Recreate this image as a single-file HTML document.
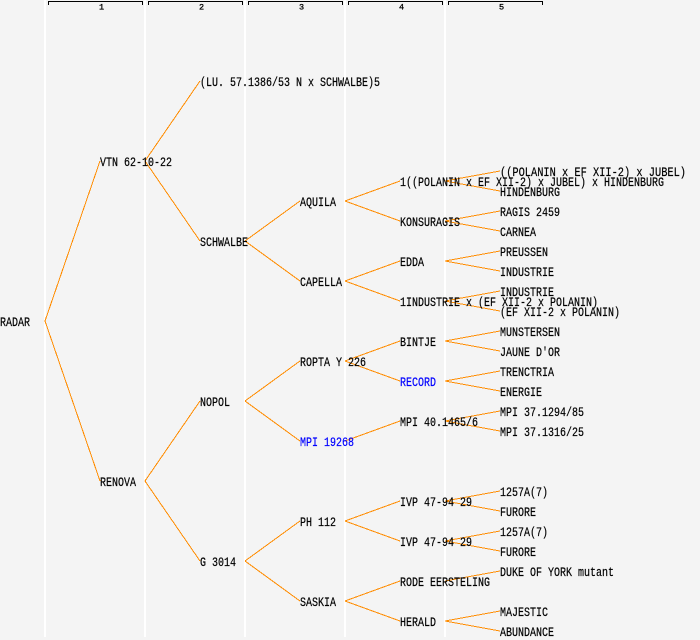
<!DOCTYPE html>
<html>
<head>
<meta charset="utf-8">
<style>
  html, body { margin: 0; padding: 0; background: #f4f4f4; }
  svg { display: block; }
  text { font-family: "Liberation Mono", "DejaVu Sans Mono", monospace; font-size: 12.5px; fill: #000; stroke: #000; stroke-width: 0.2px; }
  .b { fill: #0000ff; stroke: #0000ff; }
  .h { font-size: 8.5px; text-anchor: middle; stroke-width: 0.3px; }
</style>
</head>
<body>
<svg width="700" height="640" viewBox="0 0 700 640" xmlns="http://www.w3.org/2000/svg">
  <rect x="0" y="0" width="700" height="640" fill="#f4f4f4"/>
  <!-- column separators -->
  <g fill="#ffffff">
    <rect x="44" y="0" width="2" height="637"/>
    <rect x="144" y="0" width="2" height="637"/>
    <rect x="244" y="0" width="2" height="637"/>
    <rect x="344" y="0" width="2" height="637"/>
    <rect x="444" y="0" width="2" height="637"/>
  </g>
  <!-- header brackets -->
  <g stroke="#000" stroke-width="1" fill="none" shape-rendering="crispEdges">
    <path d="M48.5 5 V1.5 H142.5 V5"/>
    <path d="M148.5 5 V1.5 H242.5 V5"/>
    <path d="M248.5 5 V1.5 H342.5 V5"/>
    <path d="M348.5 5 V1.5 H442.5 V5"/>
    <path d="M448.5 5 V1.5 H542.5 V5"/>
  </g>
  <text class="h" x="101.5" y="9.5">1</text>
  <text class="h" x="201.5" y="9.5">2</text>
  <text class="h" x="301.5" y="9.5">3</text>
  <text class="h" x="401.5" y="9.5">4</text>
  <text class="h" x="501.5" y="9.5">5</text>

  <!-- connectors -->
  <g stroke="#ff8c00" stroke-width="1" fill="none" shape-rendering="crispEdges">
    <line x1="45" y1="321" x2="100" y2="161"/>
    <line x1="45" y1="321" x2="100" y2="481"/>
    <line x1="145" y1="161" x2="200" y2="81"/>
    <line x1="145" y1="161" x2="200" y2="241"/>
    <line x1="145" y1="481" x2="200" y2="401"/>
    <line x1="145" y1="481" x2="200" y2="561"/>
    <line x1="245" y1="241" x2="300" y2="201"/>
    <line x1="245" y1="241" x2="300" y2="281"/>
    <line x1="245" y1="401" x2="300" y2="361"/>
    <line x1="245" y1="401" x2="300" y2="441"/>
    <line x1="245" y1="561" x2="300" y2="521"/>
    <line x1="245" y1="561" x2="300" y2="601"/>
    <line x1="345" y1="201" x2="400" y2="181"/>
    <line x1="345" y1="201" x2="400" y2="221"/>
    <line x1="345" y1="281" x2="400" y2="261"/>
    <line x1="345" y1="281" x2="400" y2="301"/>
    <line x1="345" y1="361" x2="400" y2="341"/>
    <line x1="345" y1="361" x2="400" y2="381"/>
    <line x1="345" y1="441" x2="400" y2="421"/>
    <line x1="345" y1="521" x2="400" y2="501"/>
    <line x1="345" y1="521" x2="400" y2="541"/>
    <line x1="345" y1="601" x2="400" y2="581"/>
    <line x1="345" y1="601" x2="400" y2="621"/>
    <line x1="445" y1="181" x2="500" y2="171"/>
    <line x1="445" y1="181" x2="500" y2="191"/>
    <line x1="445" y1="221" x2="500" y2="211"/>
    <line x1="445" y1="221" x2="500" y2="231"/>
    <line x1="445" y1="261" x2="500" y2="251"/>
    <line x1="445" y1="261" x2="500" y2="271"/>
    <line x1="445" y1="301" x2="500" y2="291"/>
    <line x1="445" y1="301" x2="500" y2="311"/>
    <line x1="445" y1="341" x2="500" y2="331"/>
    <line x1="445" y1="341" x2="500" y2="351"/>
    <line x1="445" y1="381" x2="500" y2="371"/>
    <line x1="445" y1="381" x2="500" y2="391"/>
    <line x1="445" y1="421" x2="500" y2="411"/>
    <line x1="445" y1="421" x2="500" y2="431"/>
    <line x1="445" y1="501" x2="500" y2="491"/>
    <line x1="445" y1="501" x2="500" y2="511"/>
    <line x1="445" y1="541" x2="500" y2="531"/>
    <line x1="445" y1="541" x2="500" y2="551"/>
    <line x1="445" y1="581" x2="500" y2="571"/>
    <line x1="445" y1="621" x2="500" y2="611"/>
    <line x1="445" y1="621" x2="500" y2="631"/>
  </g>

  <text x="0" y="326" textLength="30" lengthAdjust="spacingAndGlyphs">RADAR</text>

  <text x="100" y="166" textLength="72" lengthAdjust="spacingAndGlyphs">VTN 62-10-22</text>
  <text x="100" y="486" textLength="36" lengthAdjust="spacingAndGlyphs">RENOVA</text>

  <text x="200" y="86" textLength="180" lengthAdjust="spacingAndGlyphs">(LU. 57.1386/53 N x SCHWALBE)5</text>
  <text x="200" y="246" textLength="48" lengthAdjust="spacingAndGlyphs">SCHWALBE</text>
  <text x="200" y="406" textLength="30" lengthAdjust="spacingAndGlyphs">NOPOL</text>
  <text x="200" y="566" textLength="36" lengthAdjust="spacingAndGlyphs">G 3014</text>

  <text x="300" y="206" textLength="36" lengthAdjust="spacingAndGlyphs">AQUILA</text>
  <text x="300" y="286" textLength="42" lengthAdjust="spacingAndGlyphs">CAPELLA</text>
  <text x="300" y="366" textLength="66" lengthAdjust="spacingAndGlyphs">ROPTA Y 226</text>
  <text class="b" x="300" y="446" textLength="54" lengthAdjust="spacingAndGlyphs">MPI 19268</text>
  <text x="300" y="526" textLength="36" lengthAdjust="spacingAndGlyphs">PH 112</text>
  <text x="300" y="606" textLength="36" lengthAdjust="spacingAndGlyphs">SASKIA</text>

  <text x="400" y="186" textLength="264" lengthAdjust="spacingAndGlyphs">1((POLANIN x EF XII-2) x JUBEL) x HINDENBURG</text>
  <text x="400" y="226" textLength="60" lengthAdjust="spacingAndGlyphs">KONSURAGIS</text>
  <text x="400" y="266" textLength="24" lengthAdjust="spacingAndGlyphs">EDDA</text>
  <text x="400" y="306" textLength="198" lengthAdjust="spacingAndGlyphs">1INDUSTRIE x (EF XII-2 x POLANIN)</text>
  <text x="400" y="346" textLength="36" lengthAdjust="spacingAndGlyphs">BINTJE</text>
  <text class="b" x="400" y="386" textLength="36" lengthAdjust="spacingAndGlyphs">RECORD</text>
  <text x="400" y="426" textLength="78" lengthAdjust="spacingAndGlyphs">MPI 40.1465/6</text>
  <text x="400" y="506" textLength="72" lengthAdjust="spacingAndGlyphs">IVP 47-94 29</text>
  <text x="400" y="546" textLength="72" lengthAdjust="spacingAndGlyphs">IVP 47-94 29</text>
  <text x="400" y="586" textLength="90" lengthAdjust="spacingAndGlyphs">RODE EERSTELING</text>
  <text x="400" y="626" textLength="36" lengthAdjust="spacingAndGlyphs">HERALD</text>

  <text x="500" y="176" textLength="186" lengthAdjust="spacingAndGlyphs">((POLANIN x EF XII-2) x JUBEL)</text>
  <text x="500" y="196" textLength="60" lengthAdjust="spacingAndGlyphs">HINDENBURG</text>
  <text x="500" y="216" textLength="60" lengthAdjust="spacingAndGlyphs">RAGIS 2459</text>
  <text x="500" y="236" textLength="36" lengthAdjust="spacingAndGlyphs">CARNEA</text>
  <text x="500" y="256" textLength="48" lengthAdjust="spacingAndGlyphs">PREUSSEN</text>
  <text x="500" y="276" textLength="54" lengthAdjust="spacingAndGlyphs">INDUSTRIE</text>
  <text x="500" y="296" textLength="54" lengthAdjust="spacingAndGlyphs">INDUSTRIE</text>
  <text x="500" y="316" textLength="120" lengthAdjust="spacingAndGlyphs">(EF XII-2 x POLANIN)</text>
  <text x="500" y="336" textLength="60" lengthAdjust="spacingAndGlyphs">MUNSTERSEN</text>
  <text x="500" y="356" textLength="60" lengthAdjust="spacingAndGlyphs">JAUNE D'OR</text>
  <text x="500" y="376" textLength="54" lengthAdjust="spacingAndGlyphs">TRENCTRIA</text>
  <text x="500" y="396" textLength="42" lengthAdjust="spacingAndGlyphs">ENERGIE</text>
  <text x="500" y="416" textLength="84" lengthAdjust="spacingAndGlyphs">MPI 37.1294/85</text>
  <text x="500" y="436" textLength="84" lengthAdjust="spacingAndGlyphs">MPI 37.1316/25</text>
  <text x="500" y="496" textLength="48" lengthAdjust="spacingAndGlyphs">1257A(7)</text>
  <text x="500" y="516" textLength="36" lengthAdjust="spacingAndGlyphs">FURORE</text>
  <text x="500" y="536" textLength="48" lengthAdjust="spacingAndGlyphs">1257A(7)</text>
  <text x="500" y="556" textLength="36" lengthAdjust="spacingAndGlyphs">FURORE</text>
  <text x="500" y="576" textLength="114" lengthAdjust="spacingAndGlyphs">DUKE OF YORK mutant</text>
  <text x="500" y="616" textLength="48" lengthAdjust="spacingAndGlyphs">MAJESTIC</text>
  <text x="500" y="636" textLength="54" lengthAdjust="spacingAndGlyphs">ABUNDANCE</text>
</svg>
</body>
</html>
